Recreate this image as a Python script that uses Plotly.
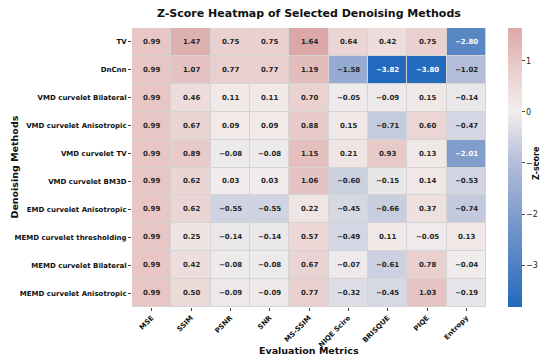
import plotly.graph_objects as go
import numpy as np

methods = ["TV", "DnCnn", "VMD curvelet Bilateral", "VMD curvelet Anisotropic",
           "VMD curvelet TV", "VMD curvelet BM3D", "EMD curvelet Anisotropic",
           "MEMD curvelet thresholding", "MEMD curvelet Bilateral", "MEMD curvelet Anisotropic"]
metrics = ["MSE", "SSIM", "PSNR", "SNR", "MS-SSIM", "NIQE Scire", "BRISQUE", "PIQE", "Entropy"]

z_tv = [0.99, 1.47, 0.75, 0.75, 1.64, 0.64, 0.42, 0.75, -2.80]
z_dncnn = [0.99, 1.07, 0.77, 0.77, 1.19, -1.58, -3.82, -3.80, -1.02]
z_vmd_bil = [0.99, 0.46, 0.11, 0.11, 0.70, -0.05, -0.09, 0.15, -0.14]
z_vmd_ani = [0.99, 0.67, 0.09, 0.09, 0.88, 0.15, -0.71, 0.60, -0.47]
z_vmd_tv = [0.99, 0.89, -0.08, -0.08, 1.15, 0.21, 0.93, 0.13, -2.01]
z_vmd_bm3d = [0.99, 0.62, 0.03, 0.03, 1.06, -0.60, -0.15, 0.14, -0.53]
z_emd_ani = [0.99, 0.62, -0.55, -0.55, 0.22, -0.45, -0.66, 0.37, -0.74]
z_memd_thr = [0.99, 0.25, -0.14, -0.14, 0.57, -0.49, 0.11, -0.05, 0.13]
z_memd_bil = [0.99, 0.42, -0.08, -0.08, 0.67, -0.07, -0.61, 0.78, -0.04]
z_memd_ani = [0.99, 0.50, -0.09, -0.09, 0.77, -0.32, -0.45, 1.03, -0.19]

colorbar_ticks = [1, 0, -1, -2, -3]

Z = np.array([z_tv, z_dncnn, z_vmd_bil, z_vmd_ani, z_vmd_tv, z_vmd_bm3d,
              z_emd_ani, z_memd_thr, z_memd_bil, z_memd_ani])

# approximate seaborn "vlag" colormap, centred at 0
vlag_pos = [0.0, 0.125, 0.25, 0.375, 0.5, 0.625, 0.75, 0.875, 1.0]
vlag_rgb = [(35, 105, 189), (85, 133, 196), (133, 160, 205), (182, 191, 217),
            (242, 238, 237), (231, 200, 199), (214, 155, 154), (196, 108, 108),
            (169, 55, 59)]

zmin, zmax = float(Z.min()), float(Z.max())
vr = max(abs(zmin), abs(zmax))

def cmap(t):
    r = np.interp(t, vlag_pos, [c[0] for c in vlag_rgb])
    g = np.interp(t, vlag_pos, [c[1] for c in vlag_rgb])
    b = np.interp(t, vlag_pos, [c[2] for c in vlag_rgb])
    return f"rgb({r:.0f},{g:.0f},{b:.0f})"

cs = []
for p in np.linspace(0, 1, 41):
    v = zmin + p * (zmax - zmin)
    t = 0.5 + v / (2 * vr)
    cs.append([float(p), cmap(t)])

# page body has an 8px default margin: figure drawn 8px in from the window's corner
OFF = 8
W, H = 550 - OFF, 360 - OFF
L, T = 132 - OFF, 28 - OFF
PR, PB = 486 - OFF, 307 - OFF
R, B = W - PR, H - PB
pw, ph = PR - L, PB - T

fig = go.Figure(go.Heatmap(
    z=Z, x=metrics, y=methods, zmin=zmin, zmax=zmax, colorscale=cs,
    xgap=1, ygap=1, hoverinfo="skip",
    colorbar=dict(
        x=(508 - OFF - L) / pw, xanchor="left", thickness=14, len=1, lenmode="fraction",
        y=0.5, yanchor="middle", outlinewidth=0, xpad=0, ypad=0,
        tickvals=colorbar_ticks, ticktext=[str(t).replace("-", "−") for t in colorbar_ticks],
        ticks="outside", ticklen=3, tickcolor="#444",
        tickfont=dict(family="DejaVu Sans", size=8, color="#222"),
    ),
))

for i, m in enumerate(methods):
    for j, k in enumerate(metrics):
        v = Z[i, j]
        fig.add_annotation(
            x=k, y=m, text=f"{v:.2f}".replace("-", "−"), showarrow=False,
            font=dict(family="DejaVu Sans", size=7, weight="bold",
                      color="white" if v < -1.9 else "#262626"))

fig.add_annotation(text="Evaluation Metrics", xref="paper", yref="paper",
                   x=0.5, y=-(350 - 307) / ph, showarrow=False,
                   xanchor="center", yanchor="middle",
                   font=dict(family="DejaVu Sans", size=9.5, color="#111", weight="bold"))
fig.add_annotation(text="Denoising Methods", xref="paper", yref="paper",
                   x=-(132 - 14) / pw, y=0.5, showarrow=False, textangle=-90,
                   xanchor="center", yanchor="middle",
                   font=dict(family="DejaVu Sans", size=9.5, color="#111", weight="bold"))
fig.add_annotation(text="Z-score", xref="paper", yref="paper",
                   x=(536 - 132) / pw, y=(307 - 163) / ph, showarrow=False, textangle=-90,
                   xanchor="center", yanchor="middle",
                   font=dict(family="DejaVu Sans", size=8, color="#111", weight="bold"))
fig.add_annotation(text="Z-Score Heatmap of Selected Denoising Methods", xref="paper", yref="paper",
                   x=0.5, y=1 + (28 - 14) / ph, showarrow=False,
                   xanchor="center", yanchor="middle",
                   font=dict(family="DejaVu Sans", size=11, color="#111", weight="bold"))

fig.update_layout(
    width=W, height=H,
    margin=dict(l=L, r=R, t=T, b=B, autoexpand=False),
    paper_bgcolor="white", plot_bgcolor="#d4d4d4",
    xaxis=dict(tickangle=-45, ticks="outside", ticklen=3, tickcolor="#444", automargin=False,
               tickfont=dict(family="DejaVu Sans", size=7, color="#111", weight="bold"),
               showgrid=False, zeroline=False),
    yaxis=dict(autorange="reversed", ticks="outside", ticklen=3, tickcolor="#444", automargin=False,
               tickfont=dict(family="DejaVu Sans", size=7, color="#111", weight="bold"),
               showgrid=False, zeroline=False),
)

fig.write_html("out.html")
